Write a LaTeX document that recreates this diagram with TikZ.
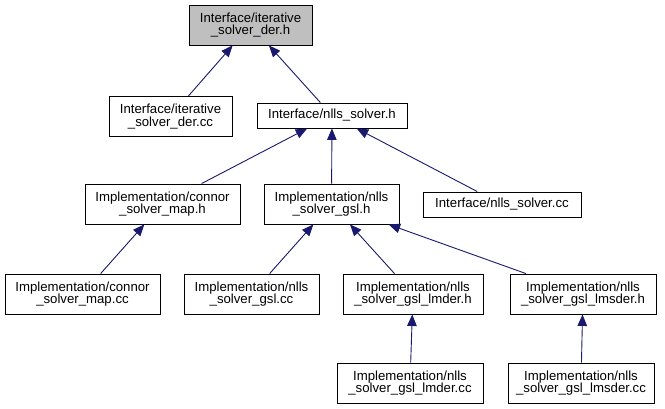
\documentclass[tikz,border=0pt]{standalone}
\usepackage{fontspec}
\setmainfont{Liberation Sans}
\usetikzlibrary{arrows.meta}
\definecolor{edgeblue}{HTML}{191970}
\definecolor{rootgray}{HTML}{BFBFBF}
\tikzset{
  file/.style={draw=black, line width=0.9pt, fill=white, align=center, inner sep=0pt,
    font=\fontsize{13.2}{12.6}\selectfont, minimum height=40pt},
  onefile/.style={file, minimum height=25pt},
  dep/.style={draw=edgeblue, line width=0.9pt, -{Triangle[length=11.5pt,width=9.5pt]}},
}
\begin{document}
\begin{tikzpicture}[x=1pt,y=-1pt]
\useasboundingbox (0,0) rectangle (665,409);
\node[file, fill=rootgray, minimum width=123pt] (n1) at (250.5,25) {Interface/iterative\\\_solver\_der.h};
\node[file, minimum width=123pt] (n2) at (170.5,116.5) {Interface/iterative\\\_solver\_der.cc};
\node[onefile, minimum width=150pt] (n3) at (332,115.5) {Interface/nlls\_solver.h};
\node[file, minimum width=155pt] (n4) at (162.5,204) {Implementation/connor\\\_solver\_map.h};
\node[file, minimum width=135pt] (n5) at (331.5,204) {Implementation/nlls\\\_solver\_gsl.h};
\node[onefile, minimum width=158pt] (n6) at (502,204.5) {Interface/nlls\_solver.cc};
\node[file, minimum width=155pt] (n7) at (82.5,294) {Implementation/connor\\\_solver\_map.cc};
\node[file, minimum width=135pt] (n8) at (251.5,294) {Implementation/nlls\\\_solver\_gsl.cc};
\node[file, minimum width=140pt] (n9) at (413,294) {Implementation/nlls\\\_solver\_gsl\_lmder.h};
\node[file, minimum width=146pt] (n10) at (583,294) {Implementation/nlls\\\_solver\_gsl\_lmsder.h};
\node[file, minimum width=146pt] (n11) at (410,383) {Implementation/nlls\\\_solver\_gsl\_lmder.cc};
\node[file, minimum width=146pt] (n12) at (581,383) {Implementation/nlls\\\_solver\_gsl\_lmsder.cc};
\draw[dep] (n2) -- (n1);
\draw[dep] (n3) -- (n1);
\draw[dep] (n4) -- (n3);
\draw[dep] (n5) -- (n3);
\draw[dep] (n6) -- (n3);
\draw[dep] (n7) -- (n4);
\draw[dep] (n8) -- (n5);
\draw[dep] (n9) -- (n5);
\draw[dep] (n10) -- (n5);
\draw[dep] (n11) -- (n9);
\draw[dep] (n12) -- (n10);
\end{tikzpicture}
\end{document}
